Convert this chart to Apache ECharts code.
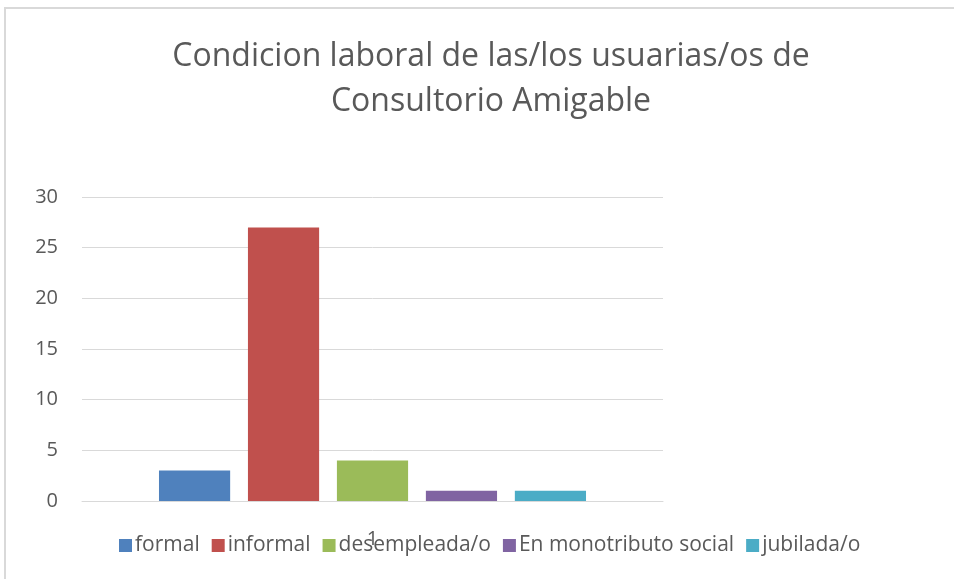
<!DOCTYPE html>
<html>
<head>
<meta charset="utf-8">
<script src="https://cdn.jsdelivr.net/npm/echarts@6/dist/echarts.min.js"></script>
<style>
html,body{margin:0;padding:0;background:#fff;}
#frame{position:absolute;left:4px;top:7px;width:960px;height:600px;border:2px solid #d9d9d9;box-sizing:border-box;}
#main{position:absolute;left:0;top:0;width:954px;height:579px;}
</style>
</head>
<body>
<div id="frame"></div>
<div id="main"></div>
<script>
// datos
var categorias = ['1'];
var nombres = ['formal', 'informal', 'desempleada/o', 'En monotributo social', 'jubilada/o'];
var valores = [3, 27, 4, 1, 1];
var colores = ['#4F81BD', '#C0504D', '#9BBB59', '#8064A2', '#4BACC6'];

var myChart = echarts.init(document.getElementById('main'));

var series = [];
for (var i = 0; i < nombres.length; i++) {
    series.push({
        name: nombres[i],
        type: 'bar',
        data: [valores[i]],
        barGap: '25%',
        barCategoryGap: '26.5%',
        itemStyle: { color: colores[i] }
    });
}

var option = {
    backgroundColor: 'transparent',
    color: colores,
    textStyle: { fontFamily: 'Open Sans' },
    title: {
        left: 486,
        textAlign: 'center',
        top: 29,
        text: 'Condicion laboral de las/los usuarias/os de\nConsultorio Amigable',
        textStyle: {
            fontFamily: 'Open Sans',
            fontWeight: 'normal',
            fontSize: 32,
            lineHeight: 45,
            color: '#595959'
        }
    },
    legend: {
        bottom: 18,
        left: 114,
        itemWidth: 13,
        itemHeight: 13,
        itemGap: 12,
        icon: 'rect',
        textStyle: { fontSize: 21, color: '#595959', padding: [0, 0, 0, -2] }
    },
    grid: {
        left: 82,
        right: 291,
        top: 197,
        bottom: 78
    },
    xAxis: {
        type: 'category',
        data: categorias,
        axisLine: { lineStyle: { color: '#d9d9d9', width: 1 } },
        axisTick: { show: false },
        axisLabel: { margin: 28, fontSize: 20, color: '#595959' }
    },
    yAxis: {
        type: 'value',
        min: 0,
        max: 30,
        interval: 5,
        axisLine: { show: false },
        axisTick: { show: false },
        axisLabel: { margin: 24, fontSize: 20, color: '#595959' },
        splitLine: { lineStyle: { color: '#d9d9d9', width: 1 } }
    },
    series: series
};
myChart.setOption(option);
</script>
</body>
</html>
